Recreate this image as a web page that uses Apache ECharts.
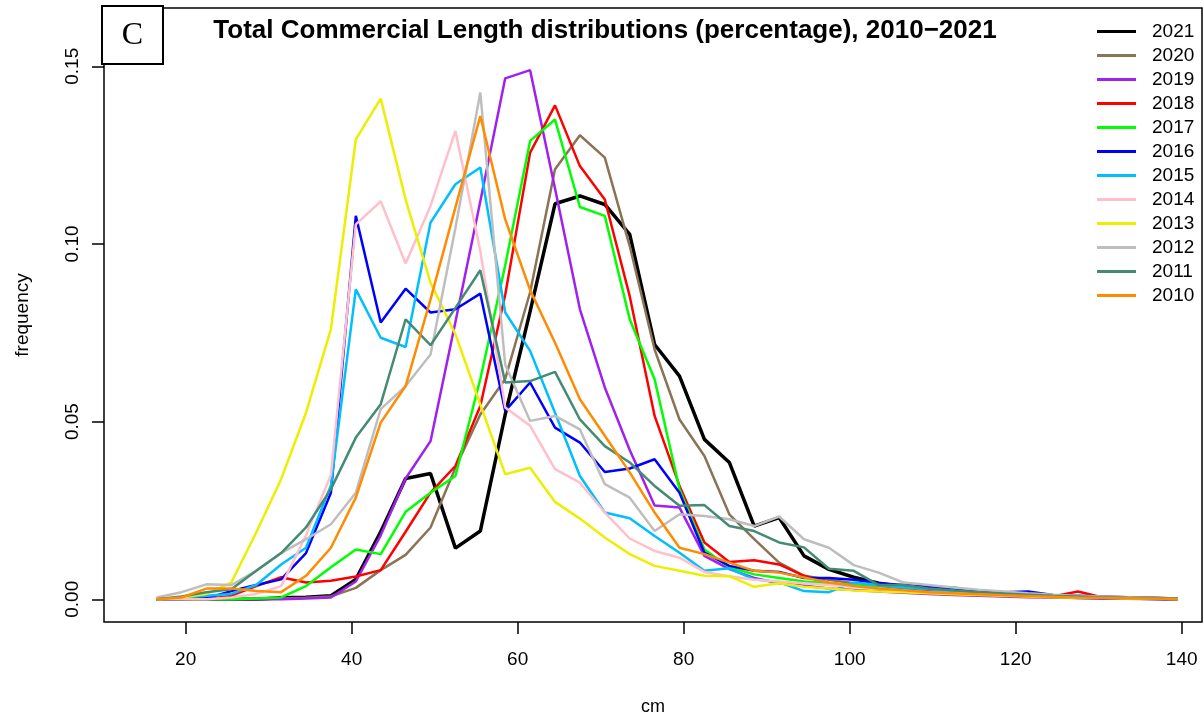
<!DOCTYPE html>
<html>
<head>
<meta charset="utf-8">
<script src="https://cdn.jsdelivr.net/npm/echarts@6/dist/echarts.min.js"></script>
<style>
  html, body { margin: 0; padding: 0; background: #fff; }
  #chart { width: 1204px; height: 721px; }
</style>
</head>
<body>
<div id="chart"></div>
<script>
// Length class midpoints (cm)
const lengths = [16.5, 19.5, 22.5, 25.5, 28.5, 31.5, 34.5, 37.5, 40.5, 43.5, 46.5, 49.5,
  52.5, 55.5, 58.5, 61.5, 64.5, 67.5, 70.5, 73.5, 76.5, 79.5, 82.5, 85.5, 88.5, 91.5,
  94.5, 97.5, 100.5, 103.5, 106.5, 109.5, 112.5, 115.5, 118.5, 121.5, 124.5, 127.5,
  130.5, 133.5, 136.5, 139.5];

// Relative frequency of each length class, by year
const y2021 = [0, 0, 0, 0, 0, 0.0004, 0.0006, 0.001, 0.0056, 0.019, 0.034, 0.0354, 0.0144, 0.0192, 0.052, 0.081, 0.1113, 0.1135, 0.1111, 0.1027, 0.0717, 0.0628, 0.045, 0.0385, 0.0206, 0.023, 0.0122, 0.0084, 0.0062, 0.0045, 0.0035, 0.0025, 0.002, 0.0015, 0.0012, 0.001, 0.0007, 0.0005, 0.0004, 0.0003, 0.0002, 0.0001];
const y2020 = [0, 0, 0, 0, 0, 0.0002, 0.0004, 0.0008, 0.0032, 0.0082, 0.0125, 0.0202, 0.037, 0.052, 0.062, 0.0864, 0.121, 0.1306, 0.1243, 0.0994, 0.0703, 0.0506, 0.0403, 0.0239, 0.0169, 0.0103, 0.0066, 0.0055, 0.0045, 0.0038, 0.003, 0.0025, 0.002, 0.0016, 0.0013, 0.001, 0.0008, 0.0006, 0.0005, 0.0004, 0.0003, 0.0002];
const y2019 = [0, 0, 0, 0, 0, 0, 0.0002, 0.0005, 0.005, 0.018, 0.034, 0.0445, 0.078, 0.112, 0.1466, 0.1489, 0.1156, 0.0816, 0.0596, 0.042, 0.0264, 0.0258, 0.0122, 0.0085, 0.006, 0.0045, 0.0038, 0.003, 0.0026, 0.0022, 0.0018, 0.0015, 0.0012, 0.001, 0.0008, 0.0006, 0.0005, 0.0004, 0.0003, 0.0002, 0.0001, 0];
const y2018 = [0, 0, 0, 0.001, 0.0037, 0.0062, 0.0047, 0.0052, 0.0064, 0.0082, 0.019, 0.030, 0.0375, 0.0544, 0.0857, 0.1257, 0.139, 0.1219, 0.1125, 0.0853, 0.0516, 0.0319, 0.016, 0.0105, 0.011, 0.0098, 0.0066, 0.0045, 0.0038, 0.003, 0.0025, 0.0022, 0.0018, 0.0015, 0.0013, 0.001, 0.0008, 0.0022, 0.0005, 0.0004, 0.0003, 0.0002];
const y2017 = [0, 0, 0, 0, 0.0002, 0.0005, 0.0037, 0.009, 0.014, 0.0127, 0.0246, 0.030, 0.0347, 0.062, 0.094, 0.129, 0.135, 0.1104, 0.1079, 0.0788, 0.0619, 0.031, 0.014, 0.009, 0.007, 0.006, 0.005, 0.0045, 0.004, 0.0038, 0.0036, 0.0033, 0.0034, 0.002, 0.0015, 0.0012, 0.001, 0.0008, 0.0006, 0.0004, 0.0003, 0.0002];
const y2016 = [0, 0, 0.0003, 0.0023, 0.004, 0.0056, 0.013, 0.03, 0.1079, 0.0779, 0.0874, 0.0807, 0.0816, 0.086, 0.053, 0.061, 0.0483, 0.0441, 0.0358, 0.0368, 0.0394, 0.030, 0.0131, 0.0094, 0.008, 0.0077, 0.006, 0.006, 0.0055, 0.0045, 0.004, 0.0035, 0.003, 0.0025, 0.002, 0.0022, 0.0012, 0.001, 0.0008, 0.0006, 0.0004, 0.0002];
const y2015 = [0, 0.0005, 0.001, 0.0015, 0.004, 0.0098, 0.0145, 0.032, 0.0872, 0.0736, 0.071, 0.106, 0.1168, 0.1215, 0.0807, 0.0699, 0.0525, 0.0347, 0.0244, 0.0228, 0.0178, 0.0131, 0.008, 0.0087, 0.0056, 0.0048, 0.0023, 0.002, 0.0047, 0.004, 0.0033, 0.0028, 0.0022, 0.0018, 0.0014, 0.0011, 0.0008, 0.0006, 0.0005, 0.0003, 0.0002, 0.0001];
const y2014 = [0, 0, 0, 0.0005, 0.0015, 0.0037, 0.018, 0.035, 0.1055, 0.112, 0.0945, 0.1107, 0.1318, 0.098, 0.054, 0.0488, 0.0366, 0.0328, 0.0244, 0.0171, 0.0136, 0.0117, 0.0077, 0.0065, 0.0055, 0.005, 0.0045, 0.004, 0.0035, 0.003, 0.0025, 0.002, 0.0017, 0.0014, 0.0011, 0.0009, 0.0007, 0.0005, 0.0004, 0.0003, 0.0002, 0.0001];
const y2013 = [0, 0.0005, 0.0015, 0.0047, 0.0188, 0.0338, 0.0525, 0.076, 0.1294, 0.1409, 0.1125, 0.0891, 0.0746, 0.0548, 0.0352, 0.037, 0.0274, 0.0227, 0.0174, 0.0127, 0.0094, 0.008, 0.0066, 0.0065, 0.0035, 0.0045, 0.0035, 0.003, 0.0025, 0.0022, 0.002, 0.0017, 0.0014, 0.0012, 0.001, 0.0008, 0.0006, 0.0005, 0.0004, 0.0003, 0.0002, 0.0001];
const y2012 = [0.0005, 0.002, 0.0042, 0.004, 0.008, 0.013, 0.0169, 0.0211, 0.030, 0.0535, 0.060, 0.0689, 0.1045, 0.1426, 0.066, 0.0502, 0.0516, 0.0478, 0.0324, 0.0286, 0.0192, 0.0239, 0.0234, 0.0225, 0.0206, 0.0233, 0.0169, 0.0145, 0.0096, 0.0075, 0.0047, 0.004, 0.0033, 0.0027, 0.0022, 0.0017, 0.0013, 0.001, 0.0008, 0.0006, 0.0004, 0.0002];
const y2011 = [0, 0.0008, 0.002, 0.0028, 0.008, 0.013, 0.0202, 0.031, 0.0455, 0.0549, 0.0788, 0.0715, 0.082, 0.0926, 0.061, 0.0614, 0.064, 0.0506, 0.0431, 0.0385, 0.0319, 0.0263, 0.0265, 0.0206, 0.0192, 0.016, 0.0146, 0.0086, 0.008, 0.004, 0.004, 0.003, 0.0025, 0.002, 0.0016, 0.0013, 0.001, 0.0008, 0.0006, 0.0004, 0.0003, 0.0002];
const y2010 = [0, 0.0005, 0.003, 0.003, 0.0023, 0.002, 0.0066, 0.0145, 0.0286, 0.0497, 0.06, 0.0844, 0.1103, 0.136, 0.1069, 0.087, 0.0722, 0.0563, 0.046, 0.0357, 0.0244, 0.0145, 0.0127, 0.0103, 0.008, 0.0075, 0.0061, 0.0047, 0.0037, 0.003, 0.0025, 0.002, 0.0017, 0.0014, 0.0011, 0.0009, 0.0007, 0.0005, 0.0004, 0.0003, 0.0002, 0.0001];

const years = ['2021', '2020', '2019', '2018', '2017', '2016', '2015', '2014', '2013', '2012', '2011', '2010'];
const values = [y2021, y2020, y2019, y2018, y2017, y2016, y2015, y2014, y2013, y2012, y2011, y2010];
const colors = ['#000000', '#8B7355', '#A020F0', '#FF0000', '#00FF00', '#0000FF',
  '#00BFFF', '#FFC0CB', '#EEEE00', '#BEBEBE', '#458B74', '#FF8C00'];

const xTicks = [20, 40, 60, 80, 100, 120, 140];
const yTicks = [0, 0.05, 0.10, 0.15];

const FONT = 'Liberation Sans, Arial, sans-serif';

const chart = echarts.init(document.getElementById('chart'), null, { renderer: 'canvas' });

const series = years.map((yr, i) => ({
  name: yr,
  type: 'line',
  symbol: 'none',
  animation: false,
  data: lengths.map((x, j) => [x, values[i][j]]),
  lineStyle: { color: colors[i], width: yr === '2021' ? 3.5 : 2.5 },
  itemStyle: { color: colors[i] },
  z: 2
}));

chart.setOption({
  backgroundColor: '#ffffff',
  animation: false,
  title: {
    text: 'Total Commercial Length distributions (percentage), 2010\u22122021',
    left: 600,
    textAlign: 'center',
    top: 13,
    textStyle: { fontFamily: FONT, fontWeight: 'bold', fontSize: 26, color: '#000' }
  },
  legend: {
    data: years,
    orient: 'vertical',
    left: 1097,
    top: 22,
    padding: 0,
    icon: 'rect',
    itemWidth: 39,
    itemHeight: 3,
    itemGap: 5,
    textStyle: { fontFamily: FONT, fontSize: 19, color: '#000', padding: [0, 0, 0, 11] }
  },
  grid: {
    left: 104, top: 8, width: 1098, height: 614,
    show: true, borderColor: '#000', borderWidth: 1.5, backgroundColor: 'transparent'
  },
  xAxis: {
    type: 'value',
    min: 10.16, max: 142.45,
    name: 'cm',
    nameLocation: 'middle',
    nameGap: 76,
    nameTextStyle: { fontFamily: FONT, fontSize: 18, color: '#000' },
    axisLine: { show: false, onZero: false },
    axisTick: { show: true, length: 12, customValues: xTicks, lineStyle: { color: '#000', width: 1.5 } },
    axisLabel: { customValues: xTicks, margin: 28, fontFamily: FONT, fontSize: 19, color: '#000' },
    splitLine: { show: false }
  },
  yAxis: {
    type: 'value',
    min: -0.0064, max: 0.1664,
    name: 'frequency',
    nameLocation: 'middle',
    nameGap: 72,
    nameRotate: 90,
    nameTextStyle: { fontFamily: FONT, fontSize: 19, color: '#000' },
    axisLine: { show: false, onZero: false },
    axisTick: { show: true, length: 12, customValues: yTicks, lineStyle: { color: '#000', width: 1.5 } },
    axisLabel: {
      customValues: yTicks, rotate: 90, margin: 22,
      fontFamily: FONT, fontSize: 19, color: '#000',
      formatter: v => v.toFixed(2)
    },
    splitLine: { show: false }
  },
  graphic: [
    {
      type: 'rect', z: 100,
      shape: { x: 102, y: 6, width: 61, height: 58 },
      style: { fill: '#fff', stroke: '#000', lineWidth: 2 }
    },
    {
      type: 'text', z: 101,
      x: 132.5, y: 36,
      style: {
        text: 'C', fill: '#000', align: 'center', verticalAlign: 'middle',
        font: '32px "Liberation Serif", "Times New Roman", serif'
      }
    }
  ],
  series: series
});
</script>
</body>
</html>
